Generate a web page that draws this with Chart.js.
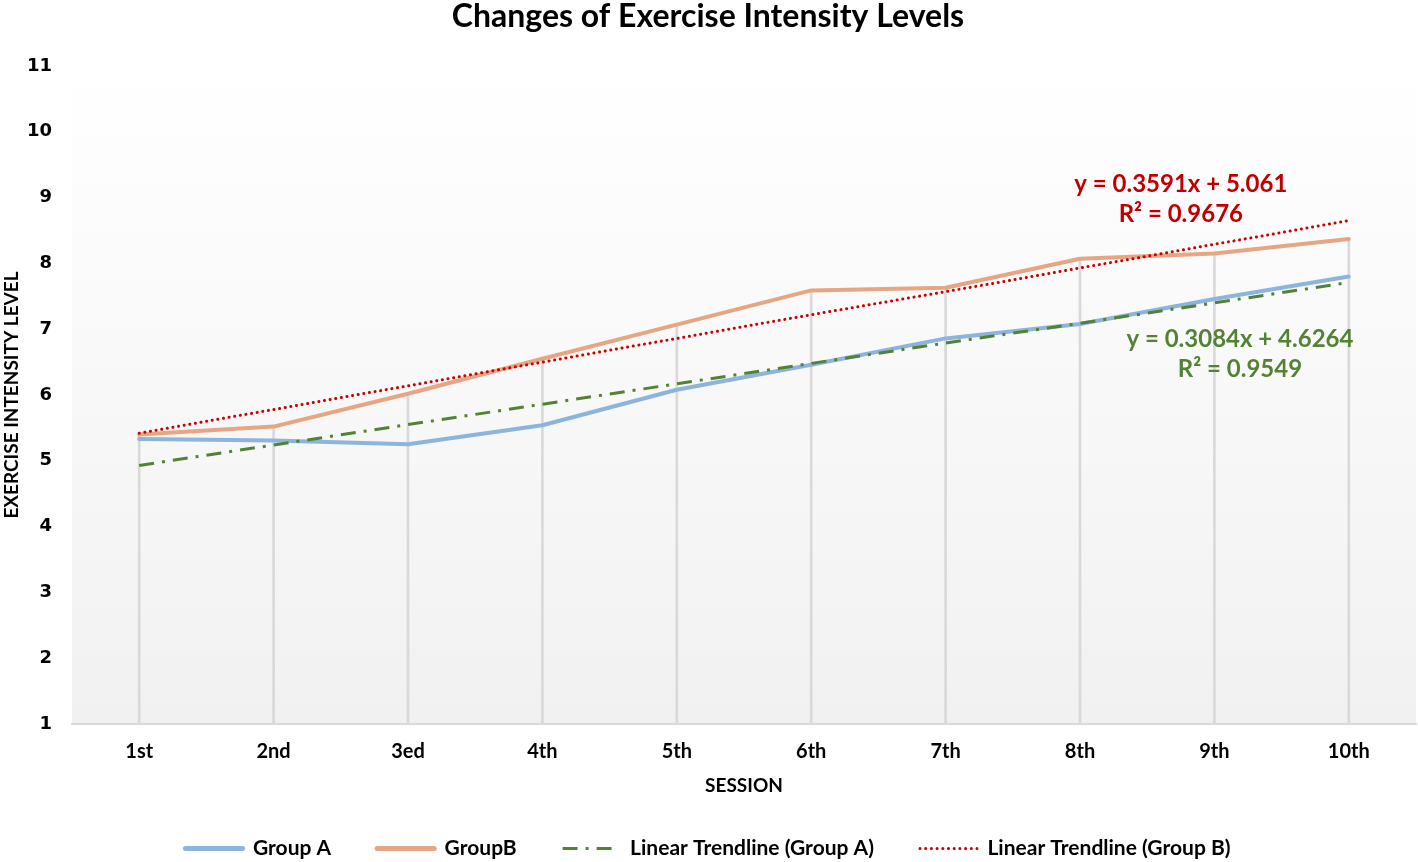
<!DOCTYPE html>
<html><head><meta charset="utf-8">
<script src="https://cdn.jsdelivr.net/npm/chart.js@4.4.0/dist/chart.umd.min.js"></script>
<style>html,body{margin:0;padding:0;background:#fff;}</style>
</head><body>
<canvas id="c" width="1418" height="862"></canvas>
<script>
const sessions = ['1st','2nd','3ed','4th','5th','6th','7th','8th','9th','10th'];
const groupA = [5.33,5.31,5.25,5.54,6.08,6.46,6.86,7.08,7.46,7.80];
const groupB = [5.40,5.52,6.02,6.55,7.07,7.59,7.63,8.07,8.15,8.37];
const trendA = [4.93,5.24,5.55,5.86,6.17,6.48,6.79,7.09,7.40,7.71];
const trendB = [5.42,5.78,6.14,6.50,6.86,7.22,7.57,7.93,8.29,8.65];
const yTicks = [1,2,3,4,5,6,7,8,9,10,11];
const eqA = ['y = 0.3084x + 4.6264','R\u00B2 = 0.9549'];
const eqB = ['y = 0.3591x + 5.061','R\u00B2 = 0.9676'];
const dropLines = groupA.map((v,i)=>Math.max(v,groupB[i]));

const LATO = 'Lato, "Open Sans", sans-serif';

const bgPlugin = {
  id:'bg',
  beforeDraw(chart){
    const {ctx, chartArea:a} = chart;
    ctx.save();
    ctx.fillStyle='#ffffff';
    ctx.fillRect(0,0,chart.width,chart.height);
    const g = ctx.createLinearGradient(0,a.top,0,a.bottom);
    g.addColorStop(0,'#ffffff');
    g.addColorStop(1,'#f1f1f1');
    ctx.fillStyle=g;
    ctx.fillRect(a.left,a.top,a.right-a.left,a.bottom-a.top);
    ctx.restore();
  }
};
const eqPlugin = {
  id:'eq',
  afterDatasetsDraw(chart){
    const {ctx} = chart; const xs=chart.scales.x, ys=chart.scales.y;
    ctx.save();
    ctx.font = 'bold 24px '+LATO;
    ctx.textAlign='center'; ctx.textBaseline='middle';
    ctx.fillStyle='#c00000';
    ctx.fillText(eqB[0], xs.getPixelForValue(7.75), ys.getPixelForValue(9.21));
    ctx.fillText(eqB[1], xs.getPixelForValue(7.75), ys.getPixelForValue(8.74));
    ctx.fillStyle='#548235';
    ctx.fillText(eqA[0], xs.getPixelForValue(8.19), ys.getPixelForValue(6.84));
    ctx.fillText(eqA[1], xs.getPixelForValue(8.19), ys.getPixelForValue(6.39));
    ctx.restore();
  }
};

new Chart(document.getElementById('c'),{
  type:'line',
  data:{
    labels:sessions,
    datasets:[
      {label:'Group A', data:groupA, borderColor:'#8db4dc', backgroundColor:'#8db4dc', borderWidth:4, pointRadius:0, borderCapStyle:'round', borderJoinStyle:'round', order:4},
      {label:'GroupB', data:groupB, borderColor:'#e6a683', backgroundColor:'#e6a683', borderWidth:4, pointRadius:0, borderCapStyle:'round', borderJoinStyle:'round', order:3},
      {label:'Linear Trendline (Group A)', data:trendA, borderColor:'#548235', backgroundColor:'#548235', borderWidth:3, borderDash:[15,8,3,8], pointRadius:0, order:2},
      {label:'Linear Trendline (Group B)', data:trendB, borderColor:'#cc0000', backgroundColor:'#cc0000', borderWidth:3, borderDash:[0.1,5.6], borderCapStyle:'round', pointRadius:0, order:1},
      {type:'bar', label:'drop', data:dropLines, base:1, backgroundColor:'#d9d9d9', barThickness:2, order:10}
    ]
  },
  options:{
    responsive:false, animation:false,
    devicePixelRatio:1,
    layout:{padding:{left:0,right:2,top:0,bottom:0}},
    plugins:{
      tooltip:{enabled:false},
      title:{display:true, text:'Changes of Exercise Intensity Levels', color:'#000', font:{family:LATO, size:32, weight:'bold'}, padding:{top:-3,bottom:30.6}},
      legend:{position:'bottom', maxHeight:70,
        labels:{usePointStyle:true, pointStyle:'line', pointStyleWidth:57, padding:46, color:'#000', font:{family:LATO,size:21,weight:'bold'},
          generateLabels(chart){
            return chart.data.datasets.map((ds,i)=>({text:ds.label, datasetIndex:i, strokeStyle:ds.borderColor, fillStyle:ds.borderColor,
              lineWidth:(ds.borderWidth||1)+(i<2?1:0), lineDash:ds.borderDash||[], lineCap:ds.borderCapStyle||'butt', pointStyle:'line', hidden:false, fontColor:'#000'}))
              .filter(it=>it.text!=='drop');
          }}}
    },
    scales:{
      x:{type:'category', offset:true,
        afterFit(s){ s.height = 68; },
        grid:{display:false, drawTicks:false},
        border:{display:true, color:'#d9d9d9', width:2},
        ticks:{padding:16, color:'#000', font:{family:LATO,size:20,weight:'bold'}},
        title:{display:true, text:'SESSION', color:'#000', font:{family:LATO,size:19,weight:'bold'}, padding:{top:0,bottom:-5}}
      },
      y:{min:1, max:11,
        afterFit(s){ s.width = 72; },
        afterBuildTicks(s){ s.ticks = yTicks.map(v=>({value:v})); },
        grid:{display:false, drawTicks:false},
        border:{display:false},
        ticks:{padding:20, color:'#000', font:{family:'"DejaVu Sans", Verdana, sans-serif',size:18,weight:'bold'}},
        title:{display:true, text:'EXERCISE INTENSITY LEVEL', color:'#000', font:{family:LATO,size:19,weight:'bold'}, padding:{top:0,bottom:0}}
      }
    }
  },
  plugins:[bgPlugin, eqPlugin]
});
</script>
</body></html>
